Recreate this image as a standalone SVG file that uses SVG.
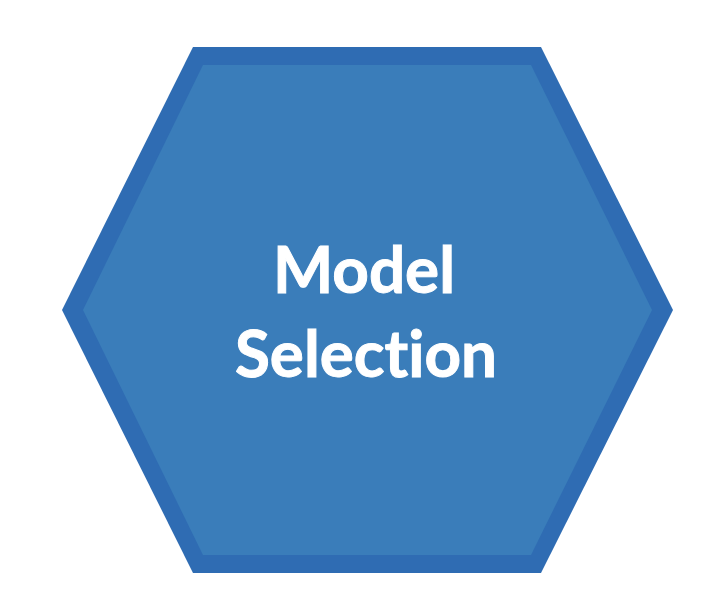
<svg xmlns="http://www.w3.org/2000/svg" width="702" height="614" viewBox="0 0 702 614">
<style>
.border{fill:#2F6CB3;}
.body{fill:#3A7DBA;}
.label{font-family:Lato,"Open Sans","Liberation Sans",sans-serif;font-weight:bold;font-size:65px;fill:#FFFFFF;text-anchor:middle;font-variant-ligatures:none;stroke:#FFFFFF;stroke-width:1;}
</style>
<rect width="702" height="614" fill="#FFFFFF"/>
<g id="model-selection">
<polygon class="border" points="193,47 541,47 673,310 541,573 193,573 62,310"/>
<polygon class="body" points="203,65 531,65 652,310 531,555 203,555 83,310"/>
<text class="label" x="364" y="293" textLength="182" lengthAdjust="spacingAndGlyphs">Model</text>
<text class="label" x="366" y="377" textLength="262" lengthAdjust="spacingAndGlyphs">Selection</text>
</g>
</svg>
